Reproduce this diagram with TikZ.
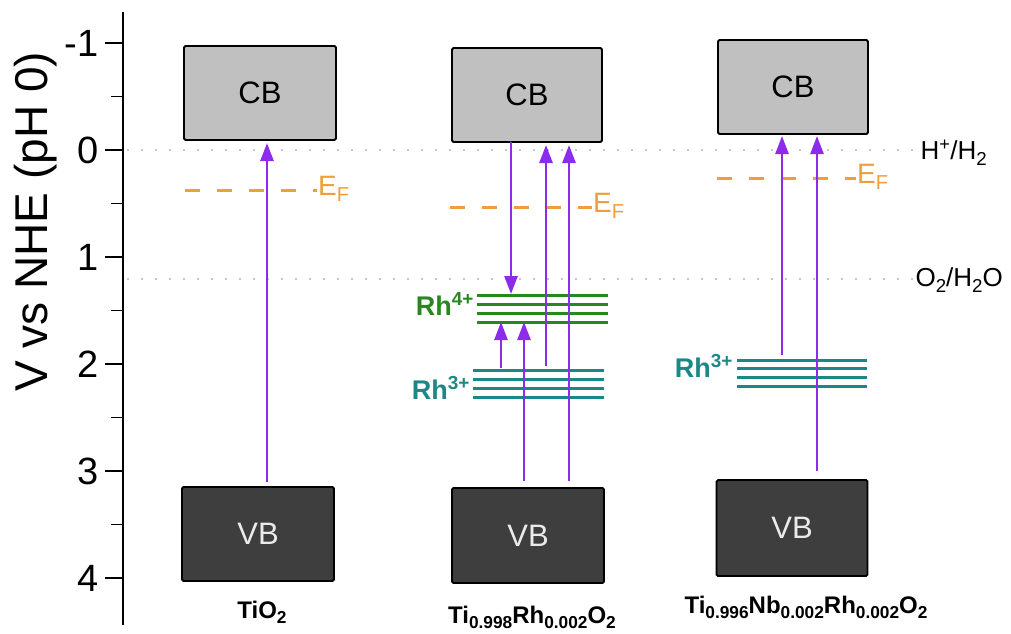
\documentclass[tikz,border=0pt]{standalone}
\usepackage{fontspec}
\setmainfont{Liberation Sans}
\usetikzlibrary{arrows.meta}
\definecolor{cbfill}{RGB}{192,192,192}
\definecolor{vbfill}{RGB}{62,62,62}
\definecolor{vbtext}{RGB}{235,235,235}
\definecolor{arr}{RGB}{140,43,235}
\definecolor{efc}{RGB}{240,158,58}
\definecolor{rhg}{RGB}{40,135,30}
\definecolor{rht}{RGB}{28,135,135}
\definecolor{dotc}{RGB}{140,140,140}
\newcommand{\lowsub}[1]{\raisebox{-0.45ex}{\scalebox{0.72}{#1}}}
\tikzset{
  band/.style={draw=black, line width=1.8pt, rounded corners=1.5pt, inner sep=0pt, font=\fontsize{31}{31}\selectfont},
  cbbox/.style={band, fill=cbfill, text=black},
  vbbox/.style={band, fill=vbfill, text=vbtext},
  axisline/.style={line width=1.6pt, black},
  ticklab/.style={anchor=east, font=\fontsize{38}{38}\selectfont},
  refline/.style={dotc, line width=1.8pt, line cap=round, dash pattern=on 0pt off 14pt},
  reflab/.style={anchor=west, font=\fontsize{26}{26}\selectfont},
  fermi/.style={efc, line width=3pt, dash pattern=on 15pt off 17pt},
  fermilab/.style={anchor=west, text=efc, inner sep=1pt, font=\fontsize{28}{28}\selectfont},
  excite/.style={arr, line width=2.6pt, -{Triangle[length=18pt,width=13pt]}},
  rhfour/.style={rhg, line width=3pt},
  rhthree/.style={rht, line width=3pt},
  rhlab/.style={font=\bfseries\fontsize{27}{27}\selectfont, inner sep=0pt},
  matlab/.style={font=\bfseries\fontsize{24}{24}\selectfont, inner sep=0pt, anchor=base}
}
\begin{document}
\begin{tikzpicture}[x=1pt,y=-1pt]
\useasboundingbox (0,0) rectangle (1011,633);

% axis
\draw[axisline] (123,12) -- (123,625);
\foreach \v in {-1,0,1,2,3,4}{
  \draw[axisline] (105,{150+107*\v}) -- (123,{150+107*\v});
  \node[ticklab] at (102,{150+107*\v}) {\v};
}
\foreach \v in {-0.5,0.5,1.5,2.5,3.5}{
  \draw[axisline] (111,{150+107*\v}) -- (123,{150+107*\v});
}
\node[rotate=90, font=\fontsize{46}{46}\selectfont] (ylab) at (36,222) {V vs NHE (pH 0)};

% reference potentials
\draw[refline] (128,150) -- (917,150);
\node[reflab] (hh) at (917,153) {H\textsuperscript{+}/H\lowsub{2}};
\draw[refline] (128,279) -- (915,279);
\node[reflab] (oh) at (912,280) {O\lowsub{2}/H\lowsub{2}O};

% bands
\node[cbbox, minimum width=152pt, minimum height=94pt] (cb1) at (260,93) {CB};
\node[vbbox, minimum width=152pt, minimum height=94pt] (vb1) at (258,534) {VB};
\node[cbbox, minimum width=150pt, minimum height=94pt] (cb2) at (527,95) {CB};
\node[vbbox, minimum width=152pt, minimum height=95pt] (vb2) at (528,535.5) {VB};
\node[cbbox, minimum width=150pt, minimum height=94pt] (cb3) at (793,87) {CB};
\node[vbbox, minimum width=151pt, minimum height=96pt] (vb3) at (792,528) {VB};

% Fermi levels
\draw[fermi] (185,190) -- (317,190) coordinate (ef1);
\node[fermilab] at ([yshift=1pt]ef1) {E\lowsub{F}};
\draw[fermi] (450,207) -- (592,207) coordinate (ef2);
\node[fermilab] at ([yshift=1pt]ef2) {E\lowsub{F}};
\draw[fermi] (717,178) -- (856,178) coordinate (ef3);
\node[fermilab] at ([yshift=1pt]ef3) {E\lowsub{F}};

% Rh levels, middle
\foreach \y in {295.7,304.3,313.3,322.3}{ \draw[rhfour] (477,\y) -- (608,\y); }
\foreach \y in {370.7,379.3,388.3,397.3}{ \draw[rhthree] (473,\y) -- (604,\y); }
\node[rhlab, text=rhg, anchor=base east] (rh4) at (474,315) {Rh\textsuperscript{4+}};
\node[rhlab, text=rht, anchor=base east] (rh3a) at (470,399) {Rh\textsuperscript{3+}};
% Rh levels, right
\foreach \y in {360,368.7,377.3,386}{ \draw[rhthree] (737,\y) -- (867,\y); }
\node[rhlab, text=rht, anchor=base east] (rh3b) at (733,377) {Rh\textsuperscript{3+}};

% arrow end points
\coordinate (a1s) at (267,482); \coordinate (a1e) at (267,143);
\coordinate (b1s) at (511,142); \coordinate (b1e) at (511,294);
\coordinate (b2s) at (546,366); \coordinate (b2e) at (546,145);
\coordinate (b3s) at (569,481); \coordinate (b3e) at (569,145);
\coordinate (b4s) at (501,368); \coordinate (b4e) at (501,322);
\coordinate (b5s) at (524,481); \coordinate (b5e) at (524,322);
\coordinate (c1s) at (782,355); \coordinate (c1e) at (782,136);
\coordinate (c2s) at (817,471); \coordinate (c2e) at (817,136);

\draw[excite] (a1s) -- (a1e);
\draw[excite] (b1s) -- (b1e);
\draw[excite] (b2s) -- (b2e);
\draw[excite] (b3s) -- (b3e);
\draw[excite] (b4s) -- (b4e);
\draw[excite] (b5s) -- (b5e);
\draw[excite] (c1s) -- (c1e);
\draw[excite] (c2s) -- (c2e);

% material labels
\node[matlab] (m1) at (262,618) {TiO\lowsub{2}};
\node[matlab] (m2) at (532,623) {Ti\lowsub{0.998}Rh\lowsub{0.002}O\lowsub{2}};
\node[matlab] (m3) at (806,613) {Ti\lowsub{0.996}Nb\lowsub{0.002}Rh\lowsub{0.002}O\lowsub{2}};
\end{tikzpicture}
\end{document}
